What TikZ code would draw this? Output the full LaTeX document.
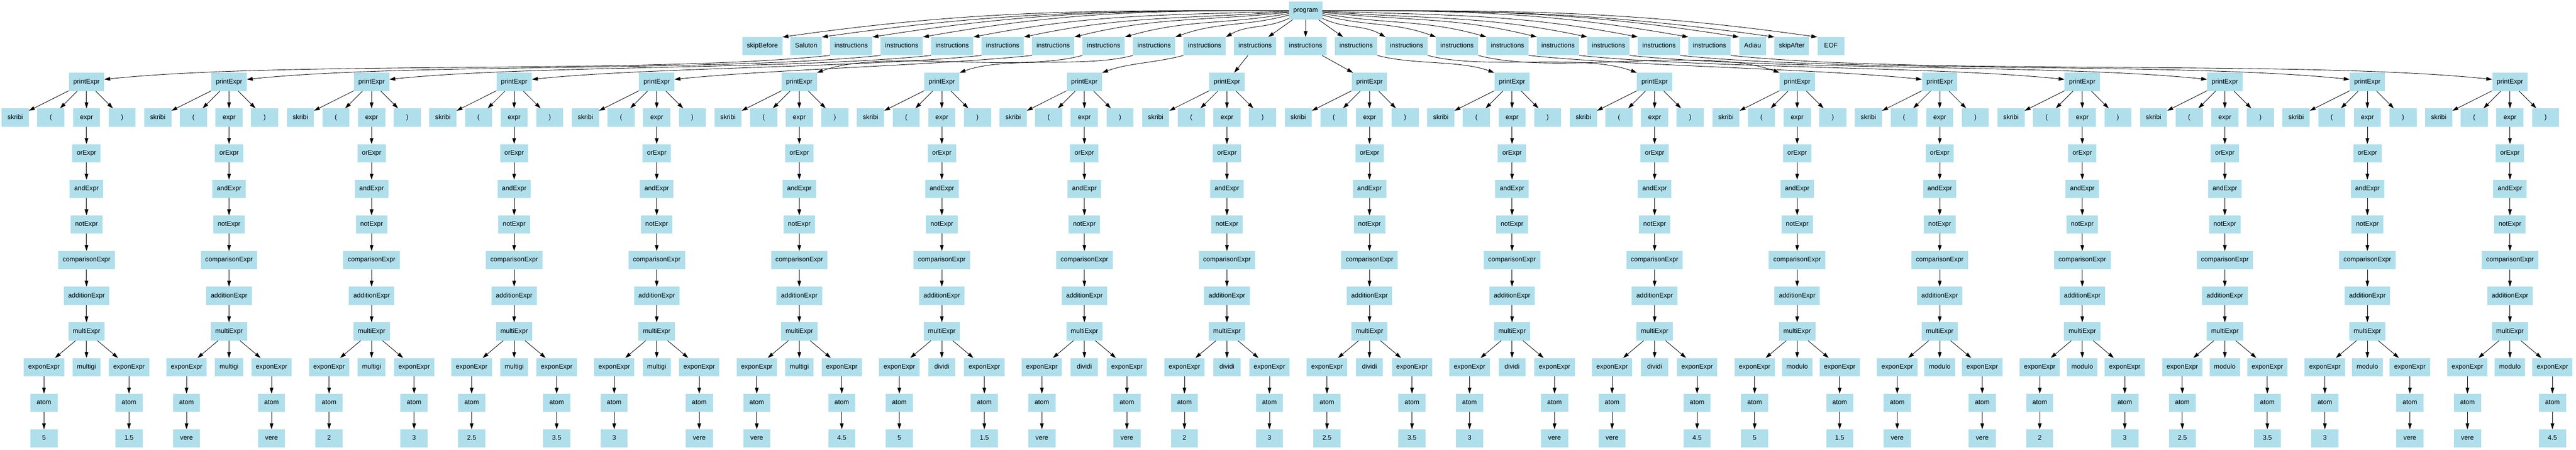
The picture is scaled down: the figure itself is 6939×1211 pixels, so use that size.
\documentclass[tikz,border=0pt]{standalone}
\usepackage{fontspec}
\setmainfont{Liberation Sans}
\usetikzlibrary{arrows.meta}
\definecolor{nodeblue}{RGB}{176,223,236}

\begin{document}
\begin{tikzpicture}[x=0.75pt, y=0.75pt,
    box/.style={fill=nodeblue, minimum width=54.75pt, minimum height=36.75pt, inner xsep=9pt, inner ysep=0pt,
        text height=9.5pt, text depth=2.8pt, font=\fontsize{13.3}{16}\selectfont},
    edge/.style={-{Triangle[length=12pt, width=7.5pt]}, line width=0.9pt}]
    % page frame
    \useasboundingbox (0,0) rectangle (6939,1211);

    % root
    \node[box] (prog) at (3517,1182.5) {program};

    % first level
    \node[box] (skb) at (2053.5,1086.5) {skipBefore};
    \node[box] (sal) at (2171.5,1086.5) {Saluton};
    \foreach \j in {1,...,18}
        \node[box] (ins\j) at ({2293+136*(\j-1)},1086.5) {instructions};
    \node[box] (adi) at (4721,1086.5) {Adiau};
    \node[box] (ska) at (4826.5,1086.5) {skipAfter};
    \node[box] (eof) at (4932,1086.5) {EOF};

    % root to first level
    \foreach \t/\o/\i in {skb/180/8, sal/180/8, ins1/180/9, ins2/180/10, ins3/182/11, ins4/184/12, ins5/186/14, ins6/190/16, ins7/195/20, ins8/205/30}
        \draw[edge] (prog) to[out=\o, in=\i] (\t.north east);
    \foreach \t/\o/\i in {ins12/-25/150, ins13/-15/160, ins14/-10/164, ins15/-6/166, ins16/-4/168, ins17/-2/169, ins18/0/170, adi/0/171, ska/0/172, eof/0/172}
        \draw[edge] (prog) to[out=\o, in=\i] (\t.north west);
    \draw[edge] (prog) -- (ins9);
    \draw[edge] (prog) -- (ins10);
    \draw[edge] (prog) -- (ins11);

    % one printExpr tree per instruction
    \foreach \k/\op/\va/\vb in {1/multigi/5/1.5, 2/multigi/vere/vere, 3/multigi/2/3, 4/multigi/2.5/3.5, 5/multigi/3/vere, 6/multigi/vere/4.5,
                                7/dividi/5/1.5, 8/dividi/vere/vere, 9/dividi/2/3, 10/dividi/2.5/3.5, 11/dividi/3/vere, 12/dividi/vere/4.5,
                                13/modulo/5/1.5, 14/modulo/vere/vere, 15/modulo/2/3, 16/modulo/2.5/3.5, 17/modulo/3/vere, 18/modulo/vere/4.5} {
        \pgfmathsetmacro{\cx}{233+384*(\k-1)}
        \node[box] (pe\k) at (\cx,990.5) {printExpr};
        \node[box] (sk\k) at (\cx-192,894.5) {skribi};
        \node[box] (lp\k) at (\cx-96,894.5) {(};
        \node[box] (ex\k) at (\cx,894.5) {expr};
        \node[box] (rp\k) at (\cx+96,894.5) {)};
        \node[box] (or\k) at (\cx,798.5) {orExpr};
        \node[box] (an\k) at (\cx,702.5) {andExpr};
        \node[box] (no\k) at (\cx,606.5) {notExpr};
        \node[box] (co\k) at (\cx,510.5) {comparisonExpr};
        \node[box] (ad\k) at (\cx,414.5) {additionExpr};
        \node[box] (mu\k) at (\cx,318.5) {multiExpr};
        \node[box] (ea\k) at (\cx-114.5,222.5) {exponExpr};
        \node[box] (op\k) at (\cx,222.5) {\op};
        \node[box] (eb\k) at (\cx+114.5,222.5) {exponExpr};
        \node[box] (aa\k) at (\cx-114.5,126.5) {atom};
        \node[box] (ab\k) at (\cx+114.5,126.5) {atom};
        \node[box] (va\k) at (\cx-114.5,30.5) {\va};
        \node[box] (vb\k) at (\cx+114.5,30.5) {\vb};
        % tree edges
        \foreach \a/\b in {pe/sk, pe/lp, pe/ex, pe/rp, ex/or, or/an, an/no, no/co, co/ad, ad/mu, mu/ea, mu/op, mu/eb, ea/aa, aa/va, eb/ab, ab/vb}
            \draw[edge] (\a\k) -- (\b\k);
    }

    % instructions down to printExpr
    \foreach \j/\s/\e/\o/\i in {1/south west/8/186/6, 2/south west/8/186/6, 3/south west/8/186/6, 4/south west/8/186/6, 5/south west/8/186/6,
                                6/south west/north east/195/20, 7/south west/north east/195/20, 8/south west/north east/195/20,
                                11/south east/north west/-15/160, 12/south east/north west/-15/160, 13/south east/north west/-15/160,
                                14/south east/172/-6/174, 15/south east/172/-6/174, 16/south east/172/-6/174, 17/south east/172/-6/174, 18/south east/172/-6/174} {
        \pgfmathsetmacro{\dd}{0.235*abs(2060-248*(\j-1))}
        \draw[edge] (ins\j.\s) .. controls +(\o:\dd) and +(\i:\dd) .. (pe\j.\e);
    }
    \draw[edge] (ins9) -- (pe9);
    \draw[edge] (ins10) -- (pe10);
\end{tikzpicture}
\end{document}
